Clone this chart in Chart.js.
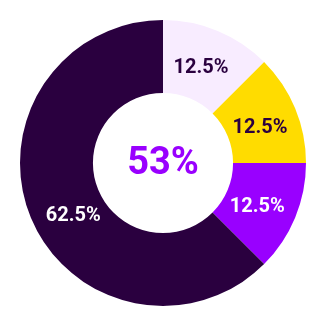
<!DOCTYPE html>
<html>
<head>
<meta charset="utf-8">
<script src="https://cdn.jsdelivr.net/npm/chart.js@4"></script>
<style>
  html, body { margin: 0; padding: 0; background: #fff; }
  #wrap { width: 326px; height: 326px; }
</style>
</head>
<body>
<div id="wrap"><canvas id="myChart"></canvas></div>
<script>
const categories = ['A', 'B', 'C', 'D'];
const values = [12.5, 12.5, 12.5, 62.5];
const sliceColors = ['#f8ecff', '#ffdc00', '#9900ff', '#2a003f'];
const labelColors = ['#2a003f', '#2a003f', '#ffffff', '#ffffff'];
const labelNudge = [-1, 2, 2, -7.5]; // degrees, label angle shift vs slice middle
const centerText = '53%';

// Draw percentage labels on slices and the big number in the middle
const labelPlugin = {
    id: 'sliceLabels',
    afterDatasetsDraw(chart) {
        const ctx = chart.ctx;
        const meta = chart.getDatasetMeta(0);
        ctx.save();
        ctx.textAlign = 'center';
        ctx.textBaseline = 'middle';
        ctx.font = 'bold 20px Roboto';
        meta.data.forEach((arc, i) => {
            const mid = (arc.startAngle + arc.endAngle) / 2 + labelNudge[i] * Math.PI / 180;
            const r = arc.innerRadius + (arc.outerRadius - arc.innerRadius) * 0.46;
            ctx.fillStyle = labelColors[i];
            ctx.fillText(values[i] + '%', arc.x + Math.cos(mid) * r, arc.y + Math.sin(mid) * r + 1);
        });
        const first = meta.data[0];
        ctx.font = 'bold 38px Roboto';
        ctx.fillStyle = '#9900ff';
        ctx.fillText(centerText, first.x, first.y + 1);
        ctx.restore();
    }
};

const ctx = document.getElementById('myChart').getContext('2d');
const chart = new Chart(ctx, {
    type: 'doughnut',
    data: {
        labels: categories,
        datasets: [{
            data: values,
            backgroundColor: sliceColors,
            borderWidth: 0
        }]
    },
    options: {
        responsive: true,
        maintainAspectRatio: false,
        animation: false,
        cutout: '49%',
        layout: { padding: 20 },
        plugins: {
            legend: { display: false },
            tooltip: { enabled: false }
        }
    },
    plugins: [labelPlugin]
});
</script>
</body>
</html>
